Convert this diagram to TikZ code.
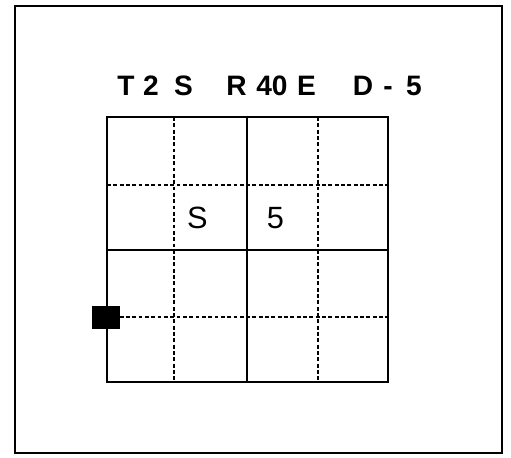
\documentclass[tikz,border=0pt]{standalone}
\usepackage{fontspec}
\setmainfont{Liberation Sans}
\usetikzlibrary{positioning}

\begin{document}
\begin{tikzpicture}[x=0.02cm,y=-0.02cm,
    gridsolid/.style={black,line width=0.6pt},
    griddash/.style={black,line width=0.75pt,dash pattern=on 2.2pt off 1.4pt},
    code/.style={font=\fontsize{16}{16}\selectfont\bfseries,inner sep=0pt,anchor=base},
    celllabel/.style={font=\fontsize{17.5}{17.5}\selectfont,inner sep=0pt,anchor=base},
    marker/.style={fill=black,inner sep=0pt,minimum width=0.56cm,minimum height=0.46cm}]
  \useasboundingbox (0,0) rectangle (511,457);

  % Outer frame
  \draw[line width=1.3pt] (15,6) rectangle (502,453);

  % Command line, one token at a time
  \foreach \tx/\tt [count=\i] in {126/T, 151/2, 183.5/S, 236.5/R, 272/40,
                                 306.5/E, 363/D, 388/-, 414/5}
    \node[code] (tok\i) at (\tx,95) {\tt};

  % Solid grid lines
  \draw[gridsolid] (107,117) rectangle (388,382);
  \draw[gridsolid] (247,117) -- (247,382);
  \draw[gridsolid] (107,250) -- (388,250);

  % Dashed grid lines
  \foreach \gx in {174,318}
    \draw[griddash] (\gx,117) -- (\gx,382);
  \foreach \gy in {185,317}
    \draw[griddash] (107,\gy) -- (388,\gy);

  % Cell labels
  \node[celllabel] (start) at (197.5,228) {S};
  \node[celllabel] (five) at (275.5,228) {5};

  % Position marker
  \node[marker] (pos) at (106,317.5) {};
\end{tikzpicture}
\end{document}
